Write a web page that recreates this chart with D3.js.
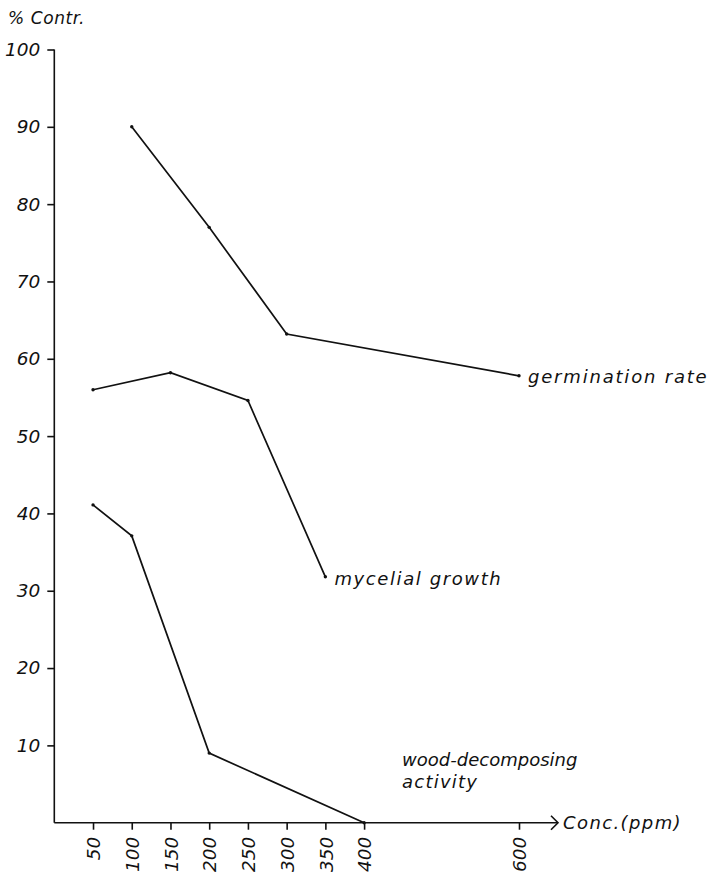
<!DOCTYPE html>
<html>
<head>
<meta charset="utf-8">
<script src="https://cdn.jsdelivr.net/npm/d3@7/dist/d3.min.js"></script>
<style>
  html, body { margin: 0; padding: 0; background: #fff; }
  svg text { font-family: "DejaVu Sans", sans-serif; font-style: italic; fill: #111; }
</style>
</head>
<body>
<svg id="chart" width="711" height="874"></svg>
<script>
// Concentration (ppm) and % of control for each response
const germConc = [100, 200, 300, 600];
const germPct = [90, 77, 63.2, 57.8];
const mycConc = [50, 150, 250, 350];
const mycPct = [56, 58.2, 54.6, 31.8];
const woodConc = [50, 100, 200, 400];
const woodPct = [41.1, 37.1, 9, 0];

const xTicks = [50, 100, 150, 200, 250, 300, 350, 400, 600];
const yTicks = [10, 20, 30, 40, 50, 60, 70, 80, 90, 100];

const svg = d3.select("#chart");
const x = d3.scaleLinear().domain([0, 600]).range([54.3, 519]);
const y = d3.scaleLinear().domain([0, 100]).range([822.7, 49.5]);

const ink = "#111";

// y axis
const yAxis = svg.append("g")
  .attr("transform", `translate(${x(0)},0)`)
  .call(d3.axisLeft(y).tickValues(yTicks).tickSize(7).tickPadding(7).tickFormat(d3.format("d")));
yAxis.select(".domain").remove();
yAxis.selectAll(".tick line").attr("stroke", ink).attr("stroke-width", 1.6);
yAxis.selectAll(".tick text").attr("font-size", 18.5).attr("font-family", "DejaVu Sans").attr("font-style", "italic").attr("fill", ink);
svg.append("line")
  .attr("x1", x(0)).attr("x2", x(0)).attr("y1", y(0)).attr("y2", y(100))
  .attr("stroke", ink).attr("stroke-width", 1.6);

// x axis
const xAxis = svg.append("g")
  .attr("transform", `translate(0,${y(0)})`)
  .call(d3.axisBottom(x).tickValues(xTicks).tickSize(7).tickFormat(d3.format("d")));
xAxis.select(".domain").remove();
xAxis.selectAll(".tick line").attr("stroke", ink).attr("stroke-width", 1.6);
xAxis.selectAll(".tick text")
  .attr("font-size", 18.5).attr("font-family", "DejaVu Sans").attr("font-style", "italic").attr("fill", ink)
  .attr("text-anchor", "end")
  .attr("transform", "rotate(-90)")
  .attr("x", -14).attr("y", 0).attr("dy", "0.36em");

const arrowEnd = 558;
svg.append("line")
  .attr("x1", x(0)).attr("x2", arrowEnd).attr("y1", y(0)).attr("y2", y(0))
  .attr("stroke", ink).attr("stroke-width", 1.6);
svg.append("path")
  .attr("d", `M${arrowEnd - 7},${y(0) - 7} L${arrowEnd},${y(0)} L${arrowEnd - 7},${y(0) + 7}`)
  .attr("fill", "none").attr("stroke", ink).attr("stroke-width", 1.6);

svg.append("text").attr("x", 563).attr("y", y(0) + 6)
  .attr("font-size", 18).attr("letter-spacing", 1.4).text("Conc.(ppm)");
svg.append("text").attr("x", 8).attr("y", 24)
  .attr("font-size", 17).attr("letter-spacing", 0.6).text("% Contr.");

// response curves
const line = d3.line().x(d => x(d[0])).y(d => y(d[1]));
const series = [
  { conc: germConc, pct: germPct },
  { conc: mycConc, pct: mycPct },
  { conc: woodConc, pct: woodPct }
];
series.forEach(s => {
  const pts = s.conc.map((c, i) => [c, s.pct[i]]);
  svg.append("path").datum(pts).attr("d", line)
    .attr("fill", "none").attr("stroke", ink).attr("stroke-width", 1.7);
  svg.selectAll(null).data(pts).enter().append("circle")
    .attr("cx", d => x(d[0])).attr("cy", d => y(d[1])).attr("r", 1.7).attr("fill", ink);
});

// curve labels
svg.append("text").attr("x", x(600) + 9).attr("y", y(germPct[3]) + 7)
  .attr("font-size", 18).attr("letter-spacing", 1.8).text("germination rate");
svg.append("text").attr("x", x(350) + 9).attr("y", y(mycPct[3]) + 8)
  .attr("font-size", 18).attr("letter-spacing", 1.6).text("mycelial growth");
svg.append("text").attr("x", x(400) + 38).attr("y", 766)
  .attr("font-size", 18).text("wood-decomposing");
svg.append("text").attr("x", x(400) + 38).attr("y", 788)
  .attr("font-size", 18).attr("letter-spacing", 1.2).text("activity");
</script>
</body>
</html>
